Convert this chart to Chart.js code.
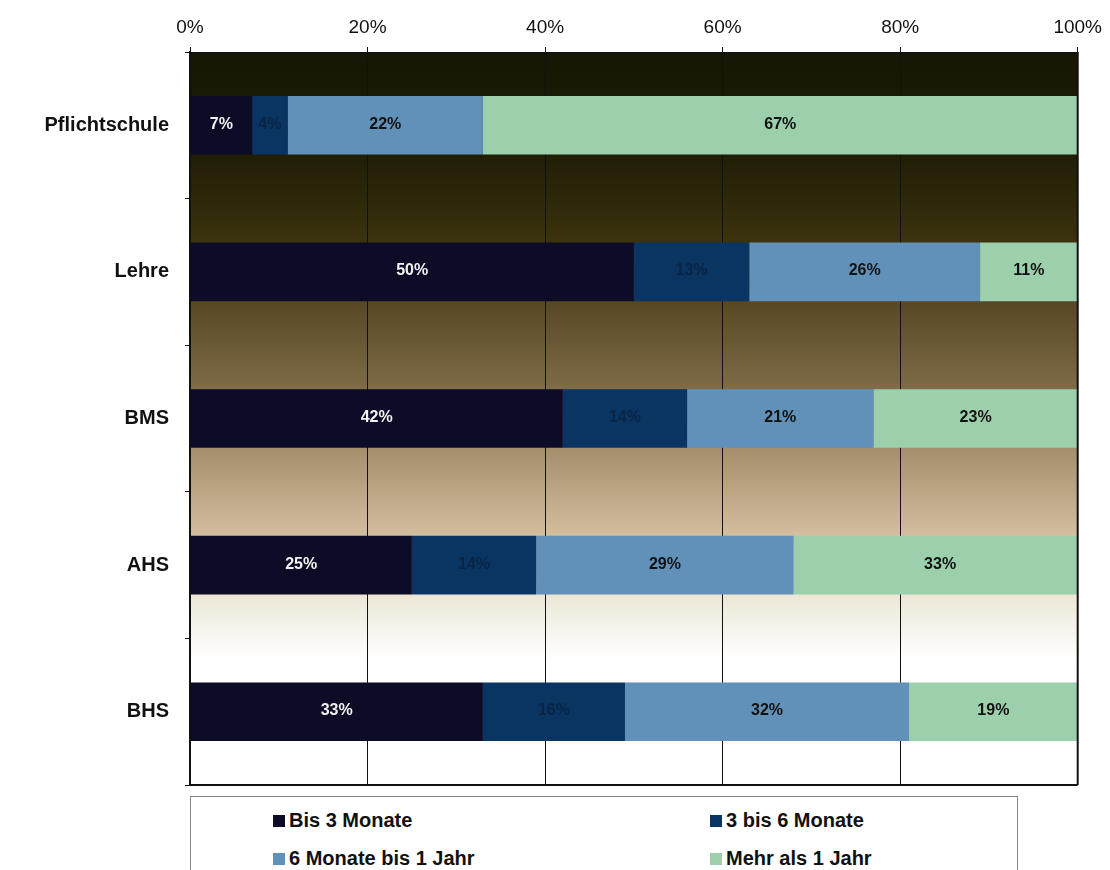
<!DOCTYPE html>
<html>
<head>
<meta charset="utf-8">
<script src="https://cdn.jsdelivr.net/npm/chart.js@4"></script>
<style>
    body { margin: 0; background: #fff; font-family: "Liberation Sans", Arial, sans-serif; }
    #wrap { position: relative; width: 1110px; height: 870px; }
    #chart { position: absolute; left: 0; top: 0; }
    #legend {
        position: absolute; left: 190px; top: 796px; width: 828px; height: 80px;
        border: 1px solid #888; box-sizing: border-box; background: #fff;
        display: grid; grid-template-columns: 437px 300px; padding: 12px 0 0 82px;
        font-weight: bold; font-size: 20px; color: #111; row-gap: 10px;
    }
    #legend span.box { display: inline-block; width: 12px; height: 12px; margin-right: 4px; }
</style>
</head>
<body>
<div id="wrap">
    <canvas id="chart" width="1110" height="813"></canvas>
    <div id="legend"></div>
</div>
<script>
/**
 * Ausbildung vs. Dauer bis zur Beschäftigung (100% gestapelt)
 **/

const categories = ['Pflichtschule', 'Lehre', 'BMS', 'AHS', 'BHS'];
const seriesNames = ['Bis 3 Monate', '3 bis 6 Monate', '6 Monate bis 1 Jahr', 'Mehr als 1 Jahr'];
const bis3 = [7, 50, 42, 25, 33];
const bis6 = [4, 13, 14, 14, 16];
const bis12 = [22, 26, 21, 29, 32];
const mehr = [67, 11, 23, 33, 19];
const xTicks = ['0%', '20%', '40%', '60%', '80%', '100%'];

const colors = ['#0c0c26', '#0a3562', '#6190b8', '#9ccfab'];
const labelColors = ['#f2f2f2', '#0a2444', '#111', '#111'];

// Background gradient of the plot area
const bgPlugin = {
    id: 'bgGradient',
    beforeDraw(chart) {
        const { ctx, chartArea: a } = chart;
        const g = ctx.createLinearGradient(0, a.top, 0, a.bottom);
        g.addColorStop(0, '#161604');
        g.addColorStop(0.13, '#1e1c05');
        g.addColorStop(0.2, '#2c280a');
        g.addColorStop(0.26, '#3c330e');
        g.addColorStop(0.35, '#5a4a28');
        g.addColorStop(0.45, '#7c6944');
        g.addColorStop(0.54, '#a58e6c');
        g.addColorStop(0.66, '#d4bea0');
        g.addColorStop(0.75, '#eeeadb');
        g.addColorStop(0.83, '#ffffff');
        g.addColorStop(1, '#ffffff');
        ctx.save();
        ctx.fillStyle = g;
        ctx.fillRect(a.left, a.top, a.right - a.left, a.bottom - a.top);
        ctx.restore();
    }
};

// Value labels in the middle of each segment
const labelPlugin = {
    id: 'segLabels',
    afterDatasetsDraw(chart) {
        const ctx = chart.ctx;
        ctx.save();
        ctx.textAlign = 'center';
        ctx.textBaseline = 'middle';
        chart.data.datasets.forEach((ds, i) => {
            const meta = chart.getDatasetMeta(i);
            ctx.font = 'bold 16px "Liberation Sans", Arial, sans-serif';
            ctx.fillStyle = labelColors[i];
            meta.data.forEach((bar, j) => {
                const x = (bar.x + bar.base) / 2;
                ctx.fillText(ds.data[j] + '%', x, bar.y - 1);
            });
        });
        ctx.restore();
    }
};

// Frame lines: right border + bottom axis
const framePlugin = {
    id: 'frame',
    afterDraw(chart) {
        const { ctx, chartArea: a } = chart;
        ctx.save();
        ctx.strokeStyle = '#111';
        ctx.lineWidth = 2;
        ctx.beginPath();
        ctx.moveTo(a.left, a.bottom);
        ctx.lineTo(a.right, a.bottom);
        ctx.moveTo(a.right, a.top);
        ctx.lineTo(a.right, a.bottom);
        ctx.stroke();
        ctx.restore();
    }
};

const datasets = [bis3, bis6, bis12, mehr].map((d, i) => ({
    label: seriesNames[i],
    data: d,
    backgroundColor: colors[i],
    borderWidth: 0,
    barPercentage: 0.4,
    categoryPercentage: 1.0
}));

new Chart(document.getElementById('chart'), {
    type: 'bar',
    data: { labels: categories, datasets: datasets },
    plugins: [bgPlugin, labelPlugin, framePlugin],
    options: {
        indexAxis: 'y',
        responsive: false,
        animation: false,
        layout: { padding: { top: 0, right: 32, bottom: 10, left: 0 } },
        scales: {
            x: {
                position: 'top',
                stacked: true,
                min: 0,
                max: 100,
                afterFit: s => { s.height = 52; },
                afterBuildTicks: s => { s.ticks = xTicks.map((t, i) => ({ value: i * 20 })); },
                ticks: {
                    color: '#111',
                    padding: 8,
                    font: { size: 19, family: '"Liberation Sans", Arial, sans-serif' },
                    callback: (v, i) => xTicks[i]
                },
                grid: { color: '#111', lineWidth: 1, tickLength: 5 },
                border: { color: '#111', width: 1 }
            },
            y: {
                stacked: true,
                afterFit: s => { s.width = 190; },
                ticks: {
                    color: '#111',
                    padding: 16,
                    font: { size: 20, weight: 'bold', family: '"Liberation Sans", Arial, sans-serif' }
                },
                grid: { drawOnChartArea: false, color: '#111', tickLength: 5, offset: true },
                border: { color: '#111', width: 2 }
            }
        },
        plugins: {
            legend: { display: false },
            tooltip: { enabled: false }
        }
    }
});

// HTML legend, two columns like the original
const legend = document.getElementById('legend');
seriesNames.forEach((name, i) => {
    const item = document.createElement('div');
    item.innerHTML = `<span class="box" style="background:${colors[i]}"></span>${name}`;
    legend.appendChild(item);
});
</script>
</body>
</html>
